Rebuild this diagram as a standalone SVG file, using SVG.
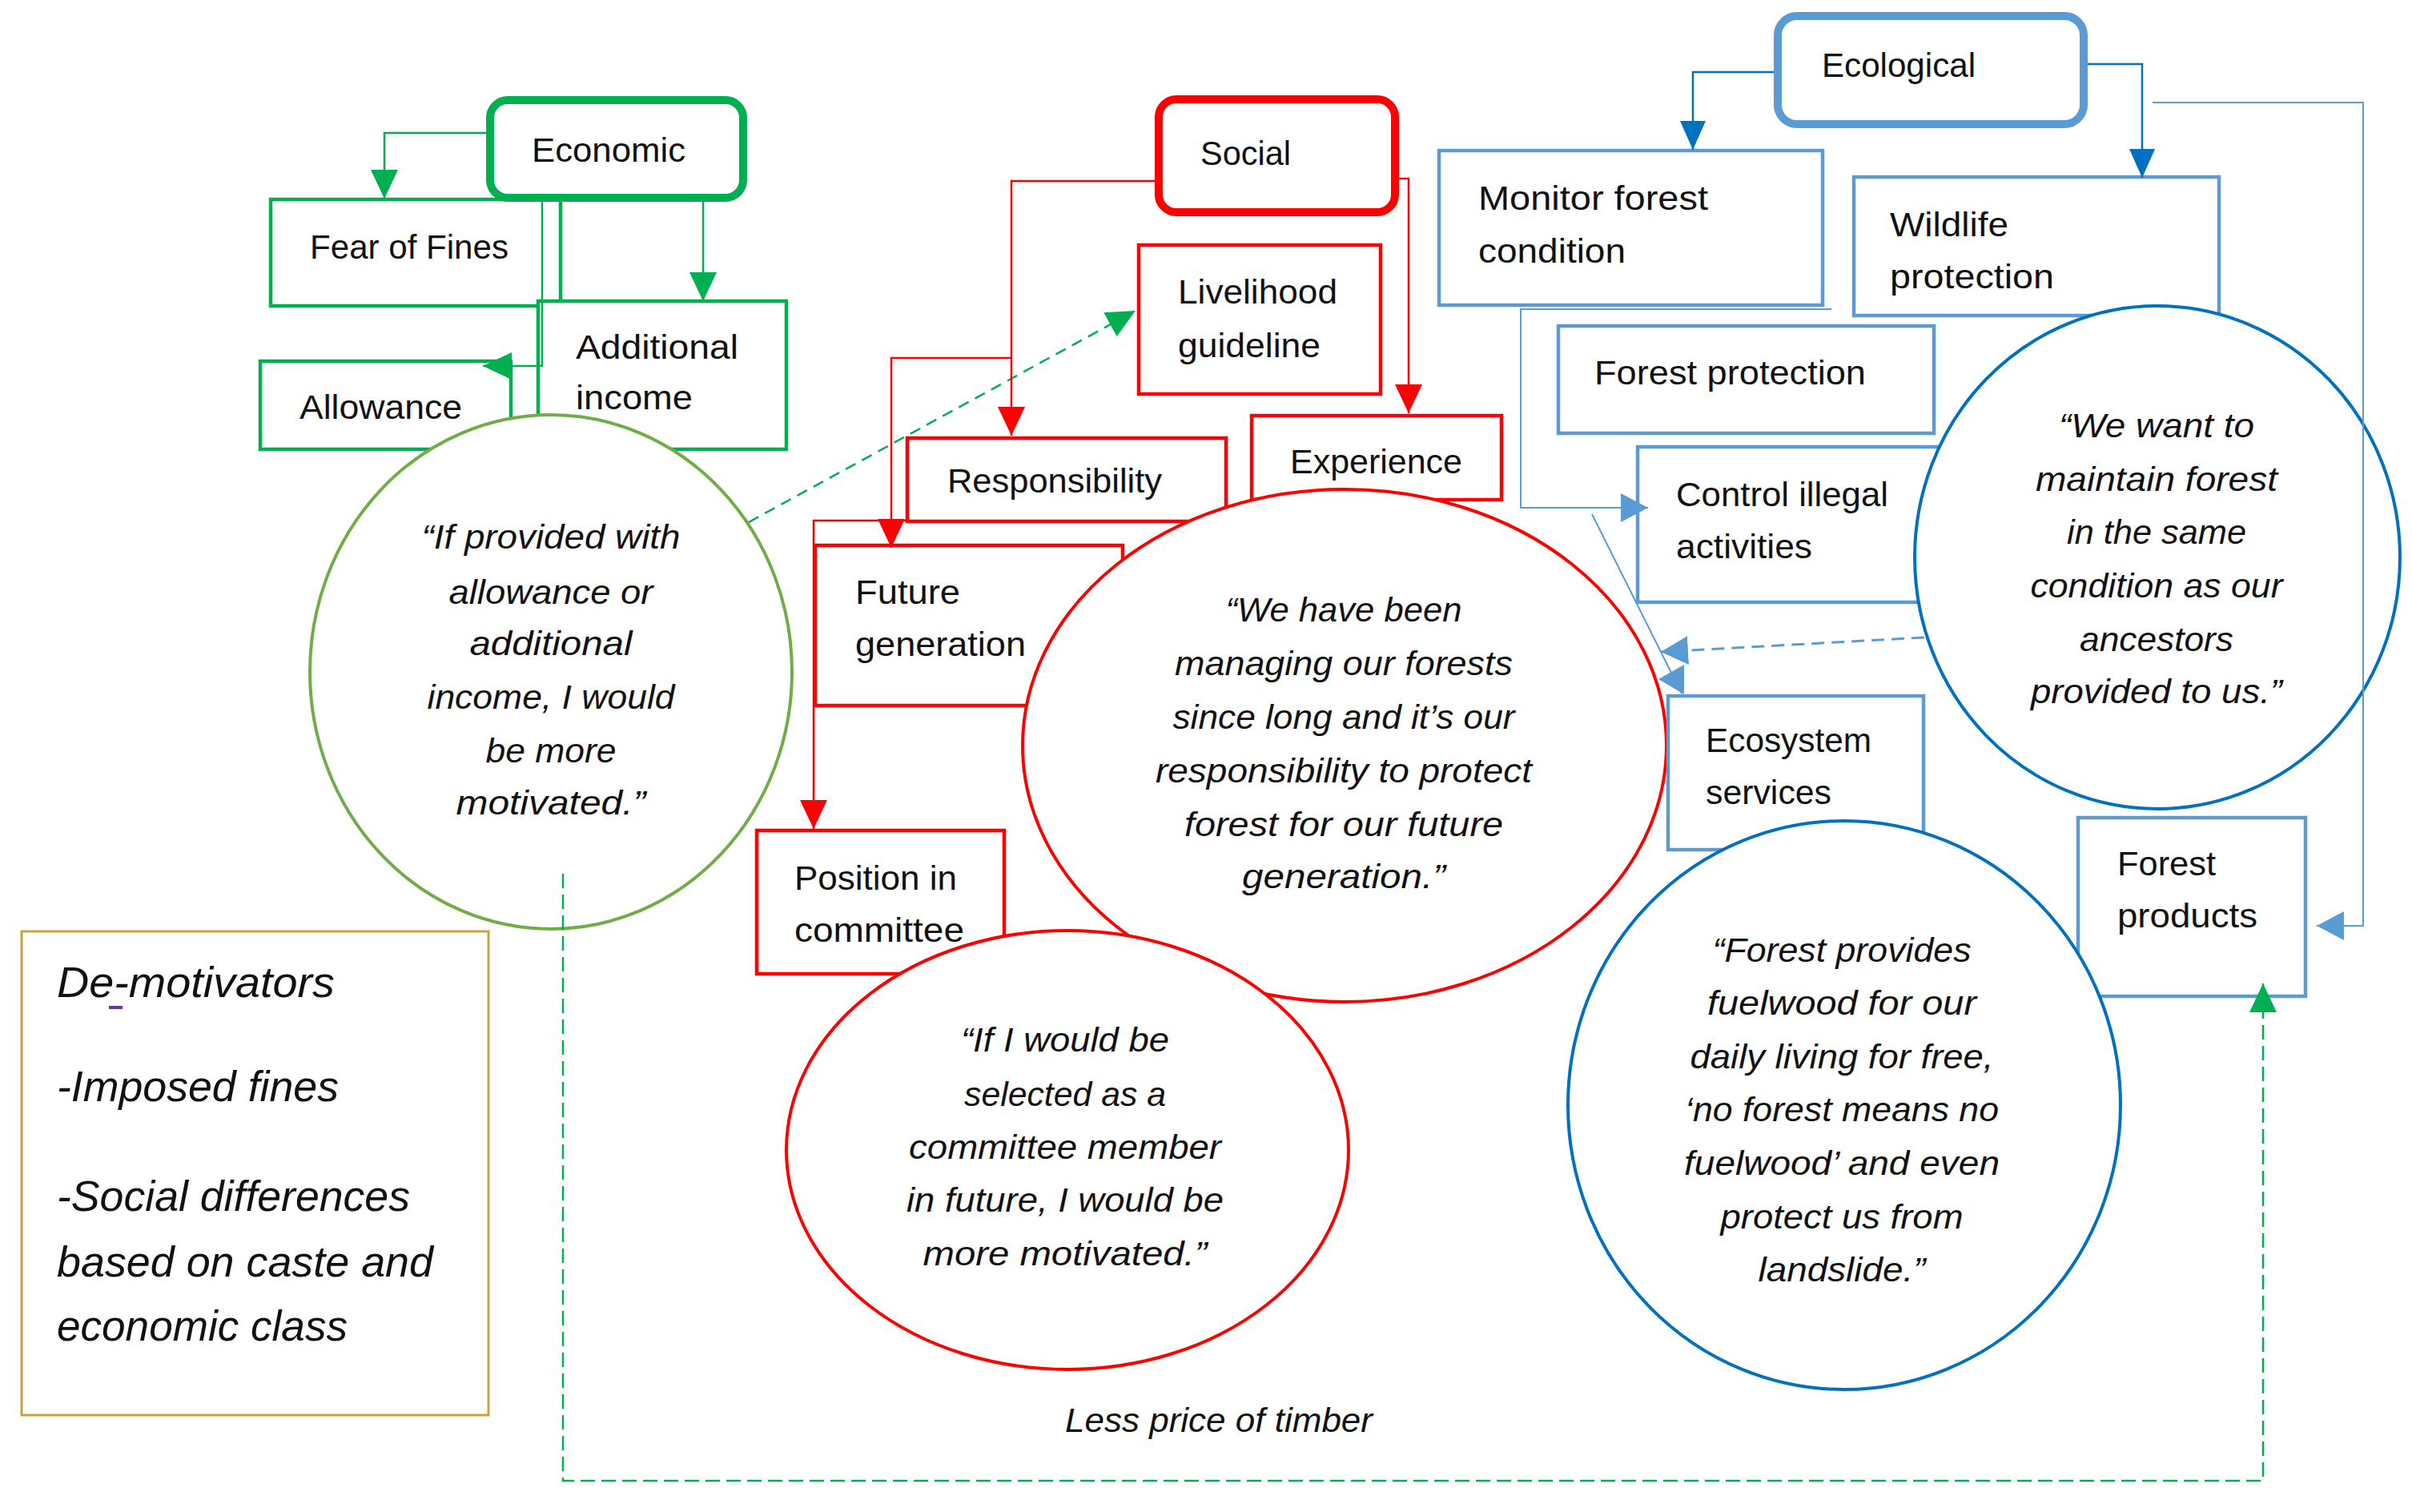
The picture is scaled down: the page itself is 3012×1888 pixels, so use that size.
<svg xmlns="http://www.w3.org/2000/svg" width="3012" height="1888" viewBox="0 0 3012 1888">
<style>
 .box{fill:#fff;stroke-width:4.5}
 .thick{fill:#fff;stroke-width:10}
 .gr{stroke:#00B050}
 .rd{stroke:#FF0000}
 .bl{stroke:#5B9BD5}
 .ell{fill:#fff;stroke-width:4}
 text{font-family:"Liberation Sans",Arial,sans-serif;fill:#111}
 .t{font-size:42px}
 .q{font-size:42px;font-style:italic;text-anchor:middle}
 .lg{font-size:54px;font-style:italic}
 .c{fill:none}
</style>
<defs>
 <marker id="aG" viewBox="0 0 36 34" refX="36" refY="17" markerWidth="36" markerHeight="34" markerUnits="userSpaceOnUse" orient="auto"><path d="M0,0 L36,17 L0,34 z" fill="#00B050"/></marker>
 <marker id="aR" viewBox="0 0 36 34" refX="36" refY="17" markerWidth="36" markerHeight="34" markerUnits="userSpaceOnUse" orient="auto"><path d="M0,0 L36,17 L0,34 z" fill="#FF0000"/></marker>
 <marker id="aB" viewBox="0 0 36 32" refX="36" refY="16" markerWidth="36" markerHeight="32" markerUnits="userSpaceOnUse" orient="auto"><path d="M0,0 L36,16 L0,32 z" fill="#0070C0"/></marker>
 <marker id="aL" viewBox="0 0 34 36" refX="34" refY="18" markerWidth="34" markerHeight="36" markerUnits="userSpaceOnUse" orient="auto"><path d="M0,0 L34,18 L0,36 z" fill="#5B9BD5"/></marker>
</defs>
<rect width="3012" height="1888" fill="#fff"/>

<!-- Economic cluster -->
<g id="fear-of-fines"><rect class="box gr" x="338" y="249" width="362" height="133"/><text class="t" x="387" y="323" textLength="248" lengthAdjust="spacingAndGlyphs">Fear of Fines</text></g>
<g id="allowance"><rect class="box gr" x="325" y="451" width="313" height="110"/><text class="t" x="374" y="523" textLength="203" lengthAdjust="spacingAndGlyphs">Allowance</text></g>
<g id="additional-income"><rect class="box gr" x="672" y="376" width="310" height="185"/><text class="t" x="719" y="448" textLength="203" lengthAdjust="spacingAndGlyphs">Additional</text><text class="t" x="719" y="511" textLength="146" lengthAdjust="spacingAndGlyphs">income</text></g>
<g id="economic"><rect class="thick gr" x="612" y="125" width="316" height="122" rx="22"/><text class="t" x="664" y="202" textLength="192" lengthAdjust="spacingAndGlyphs">Economic</text></g>
<g id="quote-allowance"><ellipse class="ell" cx="688" cy="839" rx="301" ry="321" stroke="#70AD47"/>
 <text class="q" x="688" y="685" textLength="323" lengthAdjust="spacingAndGlyphs">“If provided with</text>
 <text class="q" x="688" y="754" textLength="255" lengthAdjust="spacingAndGlyphs">allowance or</text>
 <text class="q" x="688" y="818" textLength="203" lengthAdjust="spacingAndGlyphs">additional</text>
 <text class="q" x="688" y="885" textLength="309" lengthAdjust="spacingAndGlyphs">income, I would</text>
 <text class="q" x="688" y="952" textLength="163" lengthAdjust="spacingAndGlyphs">be more</text>
 <text class="q" x="688" y="1017" textLength="237" lengthAdjust="spacingAndGlyphs">motivated.”</text>
</g>

<!-- Social cluster -->
<g id="livelihood-guideline"><rect class="box rd" x="1422" y="306" width="302" height="186"/><text class="t" x="1471" y="379" textLength="199" lengthAdjust="spacingAndGlyphs">Livelihood</text><text class="t" x="1471" y="446" textLength="178" lengthAdjust="spacingAndGlyphs">guideline</text></g>
<g id="responsibility"><rect class="box rd" x="1133" y="547" width="398" height="104"/><text class="t" x="1183" y="615" textLength="268" lengthAdjust="spacingAndGlyphs">Responsibility</text></g>
<g id="experience"><rect class="box rd" x="1563" y="519" width="312" height="105"/><text class="t" x="1611" y="591" textLength="215" lengthAdjust="spacingAndGlyphs">Experience</text></g>
<g id="future-generation"><rect class="box rd" x="1018" y="681" width="384" height="200"/><text class="t" x="1068" y="754" textLength="131" lengthAdjust="spacingAndGlyphs">Future</text><text class="t" x="1068" y="819" textLength="213" lengthAdjust="spacingAndGlyphs">generation</text></g>
<g id="position-in-committee"><rect class="box rd" x="945" y="1037" width="309" height="179"/><text class="t" x="992" y="1111" textLength="203" lengthAdjust="spacingAndGlyphs">Position in</text><text class="t" x="992" y="1176" textLength="212" lengthAdjust="spacingAndGlyphs">committee</text></g>
<g id="social"><rect class="thick rd" x="1447" y="124" width="295" height="141" rx="22"/><text class="t" x="1499" y="206" textLength="113" lengthAdjust="spacingAndGlyphs">Social</text></g>
<g id="quote-managing"><ellipse class="ell" cx="1679" cy="931" rx="402" ry="320" stroke="#FF0000"/>
 <text class="q" x="1678" y="776" textLength="295" lengthAdjust="spacingAndGlyphs">“We have been</text>
 <text class="q" x="1678" y="843" textLength="422" lengthAdjust="spacingAndGlyphs">managing our forests</text>
 <text class="q" x="1678" y="910" textLength="427" lengthAdjust="spacingAndGlyphs">since long and it’s our</text>
 <text class="q" x="1678" y="977" textLength="470" lengthAdjust="spacingAndGlyphs">responsibility to protect</text>
 <text class="q" x="1678" y="1044" textLength="398" lengthAdjust="spacingAndGlyphs">forest for our future</text>
 <text class="q" x="1678" y="1109" textLength="254" lengthAdjust="spacingAndGlyphs">generation.”</text>
</g>
<g id="quote-committee"><ellipse class="ell" cx="1333" cy="1436" rx="351" ry="274" stroke="#FF0000"/>
 <text class="q" x="1330" y="1313" textLength="260" lengthAdjust="spacingAndGlyphs">“If I would be</text>
 <text class="q" x="1330" y="1381" textLength="252" lengthAdjust="spacingAndGlyphs">selected as a</text>
 <text class="q" x="1330" y="1447" textLength="390" lengthAdjust="spacingAndGlyphs">committee member</text>
 <text class="q" x="1330" y="1513" textLength="396" lengthAdjust="spacingAndGlyphs">in future, I would be</text>
 <text class="q" x="1330" y="1580" textLength="355" lengthAdjust="spacingAndGlyphs">more motivated.”</text>
</g>

<!-- Ecological cluster -->
<g id="monitor-forest-condition"><rect class="box bl" x="1797" y="188" width="479" height="193"/><text class="t" x="1846" y="262" textLength="287" lengthAdjust="spacingAndGlyphs">Monitor forest</text><text class="t" x="1846" y="328" textLength="184" lengthAdjust="spacingAndGlyphs">condition</text></g>
<g id="wildlife-protection"><rect class="box bl" x="2315" y="221" width="456" height="173"/><text class="t" x="2360" y="295" textLength="148" lengthAdjust="spacingAndGlyphs">Wildlife</text><text class="t" x="2360" y="360" textLength="205" lengthAdjust="spacingAndGlyphs">protection</text></g>
<g id="forest-protection"><rect class="box bl" x="1946" y="407" width="469" height="134"/><text class="t" x="1991" y="480" textLength="339" lengthAdjust="spacingAndGlyphs">Forest protection</text></g>
<g id="control-illegal-activities"><rect class="box bl" x="2045" y="558" width="385" height="194"/><text class="t" x="2093" y="632" textLength="265" lengthAdjust="spacingAndGlyphs">Control illegal</text><text class="t" x="2093" y="697" textLength="170" lengthAdjust="spacingAndGlyphs">activities</text></g>
<g id="ecosystem-services"><rect class="box bl" x="2083" y="869" width="319" height="192"/><text class="t" x="2130" y="939" textLength="207" lengthAdjust="spacingAndGlyphs">Ecosystem</text><text class="t" x="2130" y="1004" textLength="157" lengthAdjust="spacingAndGlyphs">services</text></g>
<g id="forest-products"><rect class="box bl" x="2595" y="1021" width="284" height="223"/><text class="t" x="2644" y="1093" textLength="123" lengthAdjust="spacingAndGlyphs">Forest</text><text class="t" x="2644" y="1158" textLength="175" lengthAdjust="spacingAndGlyphs">products</text></g>
<g id="ecological"><rect class="thick bl" x="2220" y="20" width="382" height="135" rx="24"/><text class="t" x="2275" y="96" textLength="192" lengthAdjust="spacingAndGlyphs">Ecological</text></g>
<g id="quote-maintain"><ellipse class="ell" cx="2694" cy="696" rx="303" ry="314" stroke="#0070C0"/>
 <text class="q" x="2693" y="546" textLength="244" lengthAdjust="spacingAndGlyphs">“We want to</text>
 <text class="q" x="2693" y="613" textLength="302" lengthAdjust="spacingAndGlyphs">maintain forest</text>
 <text class="q" x="2693" y="679" textLength="224" lengthAdjust="spacingAndGlyphs">in the same</text>
 <text class="q" x="2693" y="746" textLength="315" lengthAdjust="spacingAndGlyphs">condition as our</text>
 <text class="q" x="2693" y="813" textLength="192" lengthAdjust="spacingAndGlyphs">ancestors</text>
 <text class="q" x="2693" y="878" textLength="314" lengthAdjust="spacingAndGlyphs">provided to us.”</text>
</g>
<g id="quote-fuelwood"><ellipse class="ell" cx="2303" cy="1380" rx="345" ry="355" stroke="#0070C0"/>
 <text class="q" x="2300" y="1201" textLength="323" lengthAdjust="spacingAndGlyphs">“Forest provides</text>
 <text class="q" x="2300" y="1267" textLength="336" lengthAdjust="spacingAndGlyphs">fuelwood for our</text>
 <text class="q" x="2300" y="1334" textLength="379" lengthAdjust="spacingAndGlyphs">daily living for free,</text>
 <text class="q" x="2300" y="1400" textLength="392" lengthAdjust="spacingAndGlyphs">‘no forest means no</text>
 <text class="q" x="2300" y="1467" textLength="394" lengthAdjust="spacingAndGlyphs">fuelwood’ and even</text>
 <text class="q" x="2300" y="1534" textLength="303" lengthAdjust="spacingAndGlyphs">protect us from</text>
 <text class="q" x="2300" y="1600" textLength="209" lengthAdjust="spacingAndGlyphs">landslide.”</text>
</g>

<!-- Connectors -->
<g id="connectors" class="c">
 <path class="c" d="M612,166 H480 V248" stroke="#00B050" stroke-width="2.5" marker-end="url(#aG)"/>
 <path class="c" d="M878,252 V376" stroke="#00B050" stroke-width="2.5" marker-end="url(#aG)"/>
 <path class="c" d="M677,252 V457 H603" stroke="#00B050" stroke-width="2.5" marker-end="url(#aG)"/>
 <path class="c" d="M935,652 L1418,388" stroke="#00B050" stroke-width="2.5" stroke-dasharray="14 9" marker-end="url(#aG)"/>
 <path class="c" d="M703,1091 V1849 H2826 V1228" stroke="#00B050" stroke-width="2.5" stroke-dasharray="18 8" marker-end="url(#aG)"/>

 <path class="c" d="M1442,226 H1263 V544" stroke="#FF0000" stroke-width="2.5" marker-end="url(#aR)"/>
 <path class="c" d="M1263,447 H1113 V684" stroke="#FF0000" stroke-width="2.5" marker-end="url(#aR)"/>
 <path class="c" d="M1133,650 H1016 V1035" stroke="#FF0000" stroke-width="2.5" marker-end="url(#aR)"/>
 <path class="c" d="M1747,223 H1759 V516" stroke="#FF0000" stroke-width="2.5" marker-end="url(#aR)"/>

 <path class="c" d="M2215,90 H2114 V187" stroke="#0070C0" stroke-width="2.5" marker-end="url(#aB)"/>
 <path class="c" d="M2607,80 H2675 V222" stroke="#0070C0" stroke-width="2.5" marker-end="url(#aB)"/>

 <path class="c" d="M2688,128 H2951 V1156 H2893" stroke="#5B9BD5" stroke-width="2" marker-end="url(#aL)"/>
 <path class="c" d="M2287,386 H1899 V634 H2058" stroke="#5B9BD5" stroke-width="2" marker-end="url(#aL)"/>
 <path class="c" d="M2403,796 L2074,814" stroke="#5B9BD5" stroke-width="3" stroke-dasharray="16 9" marker-end="url(#aL)"/>
 <path class="c" d="M1988,642 L2100,866" stroke="#5B9BD5" stroke-width="2"/>
 <polygon points="2071,848 2103,830 2103,867" fill="#5B9BD5"/>
</g>

<!-- Free text -->
<g id="demotivators">
 <rect x="27" y="1163" width="583" height="604" fill="none" stroke="#CFA23A" stroke-width="3"/>
 <text class="lg" x="71" y="1245" textLength="347" lengthAdjust="spacingAndGlyphs">De-motivators</text>
 <rect x="136" y="1256" width="17" height="4" fill="#7030A0"/>
 <text class="lg" x="71" y="1375" textLength="352" lengthAdjust="spacingAndGlyphs">-Imposed fines</text>
 <text class="lg" x="71" y="1512" textLength="441" lengthAdjust="spacingAndGlyphs">-Social differences</text>
 <text class="lg" x="71" y="1594" textLength="470" lengthAdjust="spacingAndGlyphs">based on caste and</text>
 <text class="lg" x="71" y="1674" textLength="363" lengthAdjust="spacingAndGlyphs">economic class</text>
</g>
<text id="less-price" class="q" x="1522" y="1788" textLength="384" lengthAdjust="spacingAndGlyphs">Less price of timber</text>
</svg>
